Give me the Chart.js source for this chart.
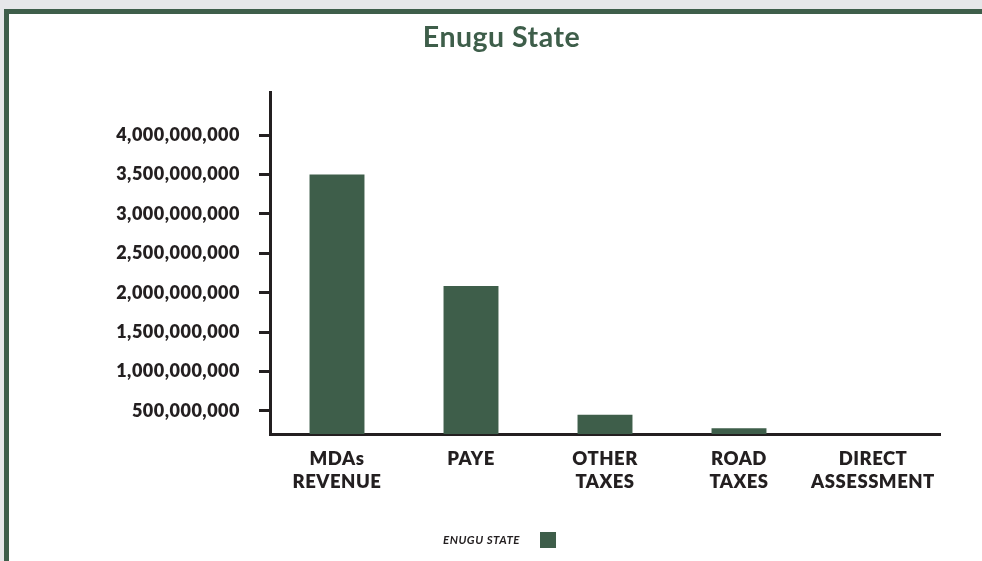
<!DOCTYPE html>
<html>
<head>
<meta charset="utf-8">
<script src="https://cdn.jsdelivr.net/npm/chart.js@4/dist/chart.umd.min.js"></script>
<style>
  html, body { margin: 0; padding: 0; background: #e6e7e9; }
  body { width: 982px; height: 561px; position: relative; overflow: hidden; }
  .frame {
    position: absolute; left: 4px; top: 9px; right: 0; bottom: 0;
    border-left: 5px solid #3e5e4a; border-top: 5px solid #3e5e4a;
    background: #ffffff;
  }
  .wrap { position: absolute; left: 0; top: 0; width: 973px; height: 547px; }
</style>
</head>
<body>
<div class="frame"><div class="wrap"><canvas id="c" width="973" height="547"></canvas></div></div>
<script>
// Revenue sources, Enugu State (naira)
const categories = [['MDAs', 'REVENUE'], 'PAYE', ['OTHER', 'TAXES'], ['ROAD', 'TAXES'], ['DIRECT', 'ASSESSMENT']];
const seriesName = 'ENUGU STATE';
const revenue = [3500000000, 2085000000, 453000000, 280000000, 0];
const tickValues = [500000000, 1000000000, 1500000000, 2000000000, 2500000000, 3000000000, 3500000000, 4000000000];
const tickLabels = ['500,000,000', '1,000,000,000', '1,500,000,000', '2,000,000,000', '2,500,000,000', '3,000,000,000', '3,500,000,000', '4,000,000,000'];

const GREEN = '#3e5e4a';
const INK = '#231f20';
const FONT = 'Lato, "Open Sans", sans-serif';

// Slightly tracked lettering for every text on the canvas
const tracking = {
  id: 'tracking',
  beforeUpdate(chart) { chart.ctx.letterSpacing = '0.5px'; },
  beforeDraw(chart) { chart.ctx.letterSpacing = '0.5px'; }
};

// Legend drawn as "label  [box]"
const sideLegend = {
  id: 'sideLegend',
  afterDraw(chart) {
    const ctx = chart.ctx;
    const ds = chart.data.datasets[0];
    ctx.save();
    ctx.font = 'italic 700 11.5px ' + FONT;
    const tw = ctx.measureText(ds.label).width;
    const box = 16, gap = 20;
    const total = tw + gap + box;
    const cx = chart.width / 2 + 4;
    const x0 = cx - total / 2;
    const yMid = chart.chartArea.bottom + 106;
    ctx.fillStyle = INK;
    ctx.textBaseline = 'middle';
    ctx.textAlign = 'left';
    ctx.fillText(ds.label, x0, yMid);
    ctx.fillStyle = ds.backgroundColor;
    ctx.fillRect(x0 + tw + gap, yMid - box / 2, box, box);
    ctx.restore();
  }
};

new Chart(document.getElementById('c'), {
  type: 'bar',
  data: {
    labels: categories,
    datasets: [{
      label: seriesName,
      data: revenue,
      backgroundColor: GREEN,
      borderWidth: 0,
      barPercentage: 0.41,
      categoryPercentage: 1,
      clip: 0
    }]
  },
  options: {
    responsive: false,
    animation: false,
    layout: { padding: { left: 54, right: 42, top: 0, bottom: 47 } },
    plugins: {
      legend: { display: false },
      tooltip: { enabled: false },
      title: {
        display: true,
        text: 'Enugu State',
        color: GREEN,
        font: { family: FONT, size: 28.5, weight: '700' },
        padding: { top: 7, bottom: 37 }
      }
    },
    scales: {
      x: {
        z: 1,
        afterFit(scale) { scale.height = 80; },
        grid: { display: false, drawTicks: false },
        border: { display: true, color: INK, width: 3 },
        ticks: {
          color: INK,
          padding: 13,
          maxRotation: 0,
          autoSkip: false,
          font: { family: FONT, size: 18.5, weight: '800', lineHeight: 1.25 }
        }
      },
      y: {
        min: 208000000,
        max: 4544000000,
        afterFit(scale) { scale.width = 207; },
        afterBuildTicks(scale) { scale.ticks = tickValues.map(v => ({ value: v })); },
        grid: { drawOnChartArea: false, drawTicks: true, tickLength: 11, color: INK, lineWidth: 3 },
        border: { display: true, color: INK, width: 3 },
        ticks: {
          color: INK,
          padding: 19,
          font: { family: FONT, size: 18, weight: '800' },
          callback(value) {
            const i = tickValues.indexOf(value);
            return i >= 0 ? tickLabels[i] : '';
          }
        }
      }
    }
  },
  plugins: [tracking, sideLegend]
});
</script>
</body>
</html>
